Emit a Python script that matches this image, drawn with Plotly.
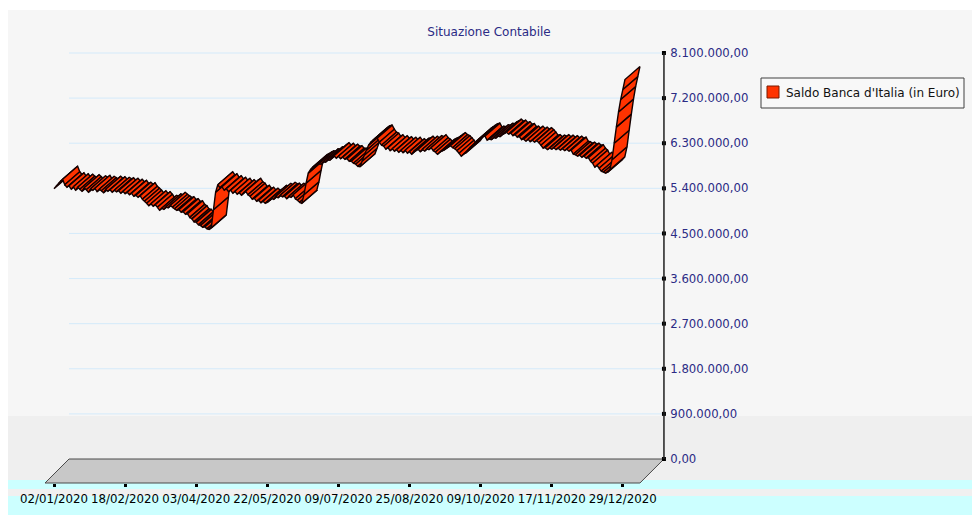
import plotly.graph_objects as go

# ---------------- data ----------------
TITLE = "Situazione Contabile"
SERIES_NAME = "Saldo Banca d'Italia (in Euro)"
DATE_LABELS = ["02/01/2020", "18/02/2020", "03/04/2020", "22/05/2020", "09/07/2020",
               "25/08/2020", "09/10/2020", "17/11/2020", "29/12/2020"]
LABEL_STEP = 33  # business days between labelled dates
Y_TICKS = [0, 900000, 1800000, 2700000, 3600000, 4500000, 5400000, 6300000, 7200000, 8100000]

# daily balance, millions of euro
SALDO_MLN = [
    5.87, 5.92, 5.97, 6.02, 6.06, 5.95, 5.90, 5.93, 5.86, 5.91,
    5.84, 5.90, 5.86, 5.82, 5.89, 5.85, 5.80, 5.87, 5.84, 5.88,
    5.81, 5.86, 5.83, 5.79, 5.86, 5.82, 5.85, 5.80, 5.84, 5.81,
    5.83, 5.78, 5.82, 5.77, 5.80, 5.75, 5.78, 5.72, 5.74, 5.70,
    5.73, 5.66, 5.62, 5.58, 5.53, 5.57, 5.52, 5.55, 5.50, 5.44,
    5.48, 5.46, 5.51, 5.49, 5.54, 5.50, 5.47, 5.44, 5.45, 5.40,
    5.41, 5.36, 5.37, 5.30, 5.27, 5.21, 5.20, 5.15, 5.14, 5.10,
    5.11, 5.07, 5.06, 5.09, 5.45, 5.80, 5.95, 5.89, 5.91, 5.84,
    5.87, 5.81, 5.84, 5.78, 5.82, 5.76, 5.79, 5.74, 5.79, 5.82,
    5.75, 5.72, 5.66, 5.68, 5.62, 5.64, 5.59, 5.62, 5.58, 5.60,
    5.63, 5.68, 5.66, 5.72, 5.69, 5.74, 5.71, 5.72, 5.67, 5.72,
    5.70, 5.75, 5.67, 5.64, 5.60, 5.58, 5.75, 5.98, 6.18, 6.25,
    6.30, 6.32, 6.35, 6.37, 6.36, 6.41, 6.40, 6.45, 6.44, 6.50,
    6.53, 6.48, 6.52, 6.47, 6.50, 6.46, 6.47, 6.42, 6.42, 6.38,
    6.36, 6.32, 6.31, 6.42, 6.54, 6.64, 6.74, 6.80, 6.84, 6.87,
    6.88, 6.80, 6.74, 6.72, 6.66, 6.69, 6.63, 6.67, 6.62, 6.65,
    6.60, 6.64, 6.59, 6.64, 6.58, 6.61, 6.56, 6.62, 6.63, 6.66,
    6.61, 6.66, 6.62, 6.67, 6.65, 6.69, 6.63, 6.60, 6.56, 6.60,
    6.62, 6.64, 6.67, 6.70, 6.73, 6.69, 6.67, 6.63, 6.58, 6.52,
    6.56, 6.58, 6.64, 6.69, 6.72, 6.77, 6.82, 6.85, 6.88, 6.91,
    6.92, 6.84, 6.86, 6.85, 6.89, 6.88, 6.92, 6.91, 6.95, 6.97,
    7.00, 6.96, 6.98, 6.93, 6.95, 6.90, 6.91, 6.85, 6.86, 6.82,
    6.86, 6.81, 6.84, 6.80, 6.83, 6.79, 6.74, 6.68, 6.69, 6.65,
    6.68, 6.66, 6.69, 6.65, 6.68, 6.64, 6.67, 6.63, 6.66, 6.62,
    6.64, 6.56, 6.55, 6.52, 6.54, 6.50, 6.52, 6.48, 6.49, 6.42,
    6.38, 6.30, 6.34, 6.28, 6.22, 6.20, 6.18, 6.20, 6.25, 6.45,
    6.78, 7.10, 7.40, 7.65, 7.85, 8.05,
]
SALDO = [v * 1e6 for v in SALDO_MLN]

# ---------------- geometry / style ----------------
W, H = 972, 515
PXV = 8.1e6 / 406          # value units per pixel
PXI = 71.1 / LABEL_STEP    # pixels per day index
X0_PX, Y0_PX = 54, 483     # pixel of index 0 / value 0 on the front plane
FLOOR_D = 24               # px depth of the floor (45 deg)
RIB_DX, RIB_DY = 15, 13    # px depth of the ribbon
NAVY = "#2b2b85"
FONT = "DejaVu Sans"
RED = "#ff3300"

N = len(SALDO)
fd_i = FLOOR_D / PXI
fd_v = FLOOR_D * PXV
rdx = RIB_DX / PXI
rdy = RIB_DY * PXV
floor_l = -9 / PXI
floor_r = (N - 1) + 15 / PXI
axis_x = floor_r + fd_i


def px(xp):
    return xp / W


def py(yp):
    return 1 - yp / H


fig = go.Figure()

# floor
fig.add_trace(go.Scatter(
    x=[floor_l, floor_r, floor_r + fd_i, floor_l + fd_i, floor_l],
    y=[0, 0, fd_v, fd_v, 0],
    mode="lines", fill="toself", fillcolor="#c8c8c8",
    line=dict(color="#4a4a4a", width=1), hoverinfo="skip", showlegend=False))

# 3D ribbon, one quad per day-to-day segment
for i in range(N - 1):
    a, b = SALDO[i], SALDO[i + 1]
    fig.add_trace(go.Scatter(
        x=[i, i + 1, i + 1 + rdx, i + rdx, i],
        y=[a, b, b + rdy, a + rdy, a],
        mode="lines", fill="toself", fillcolor=RED,
        line=dict(color="#140000", width=1.4),
        hoverinfo="skip", showlegend=False, name=SERIES_NAME))

# tick dots on the value axis
fig.add_trace(go.Scatter(
    x=[axis_x] * len(Y_TICKS), y=Y_TICKS, xaxis="x", yaxis="y2",
    mode="markers", marker=dict(symbol="square", size=4, color="#000"),
    hoverinfo="skip", showlegend=False))

shapes = []
# backgrounds
shapes.append(dict(type="rect", xref="paper", yref="paper", x0=px(8), x1=1, y0=py(416), y1=py(10),
                   fillcolor="#f6f6f6", line=dict(width=0), layer="below"))
shapes.append(dict(type="rect", xref="paper", yref="paper", x0=px(8), x1=1, y0=py(480), y1=py(416),
                   fillcolor="#efefef", line=dict(width=0), layer="below"))
shapes.append(dict(type="rect", xref="paper", yref="paper", x0=px(8), x1=1, y0=py(489), y1=py(480),
                   fillcolor="#ccffff", line=dict(width=0), layer="below"))
shapes.append(dict(type="rect", xref="paper", yref="paper", x0=px(8), x1=1, y0=py(496), y1=py(489),
                   fillcolor="#f0f0f0", line=dict(width=0), layer="below"))
shapes.append(dict(type="rect", xref="paper", yref="paper", x0=px(8), x1=1, y0=0, y1=py(496),
                   fillcolor="#ccffff", line=dict(width=0), layer="below"))
# back-wall gridlines
for t in Y_TICKS[1:]:
    shapes.append(dict(type="line", xref="x", yref="y2", x0=floor_l + fd_i, x1=axis_x, y0=t, y1=t,
                       line=dict(color="#d4eafa", width=1), layer="below"))
# value axis line
shapes.append(dict(type="line", xref="x", yref="y2", x0=axis_x, x1=axis_x, y0=0, y1=Y_TICKS[-1],
                   line=dict(color="#202020", width=1.5)))
# legend box
shapes.append(dict(type="rect", xref="paper", yref="paper", x0=px(761), x1=px(964), y0=py(108), y1=py(78),
                   fillcolor="#f8f8f8", line=dict(color="#404040", width=1)))
shapes.append(dict(type="rect", xref="paper", yref="paper", x0=px(767), x1=px(779), y0=py(98), y1=py(86),
                   fillcolor=RED, line=dict(color="#7a1a00", width=1)))

annotations = [dict(xref="paper", yref="paper", x=px(784), y=py(93), xanchor="left", yanchor="middle",
                    text=SERIES_NAME, showarrow=False, font=dict(family=FONT, size=12, color="#111"))]

fig.update_layout(
    width=W, height=H, margin=dict(l=0, r=0, t=0, b=0, autoexpand=False),
    paper_bgcolor="white", plot_bgcolor="rgba(0,0,0,0)",
    separators=",.",
    showlegend=False,
    title=dict(text=TITLE, x=489 / W, y=py(32), xanchor="center", yanchor="middle",
               font=dict(family=FONT, size=12, color=NAVY)),
    font=dict(family=FONT, size=12),
    shapes=shapes, annotations=annotations,
    xaxis=dict(range=[-X0_PX / PXI, (W - X0_PX) / PXI], domain=[0, 1],
               anchor="free", position=(H - Y0_PX) / H, automargin=False,
               tickmode="array", tickvals=[k * LABEL_STEP for k in range(len(DATE_LABELS))],
               ticktext=DATE_LABELS, tickangle=0, ticks="outside", ticklen=3, tickwidth=3,
               tickcolor="#000", ticklabelstandoff=2,
               tickfont=dict(family=FONT, size=11.8, color="#000"),
               showgrid=False, zeroline=False, showline=False),
    yaxis=dict(range=[(Y0_PX - H) * PXV, Y0_PX * PXV], domain=[0, 1], visible=False,
               automargin=False),
    yaxis2=dict(range=[(Y0_PX - FLOOR_D - H) * PXV, (Y0_PX - FLOOR_D) * PXV],
                overlaying="y", anchor="free", side="right", automargin=False,
                position=(X0_PX + axis_x * PXI) / W,
                tickmode="array", tickvals=Y_TICKS, tickformat=",.2f",
                ticks="outside", ticklen=3, tickcolor="rgba(0,0,0,0)",
                tickfont=dict(family=FONT, size=11.7, color=NAVY),
                showgrid=False, zeroline=False, showline=False),
)

fig.write_html("out.html", config={"displayModeBar": False},
               post_script="document.body.style.margin='0';")
